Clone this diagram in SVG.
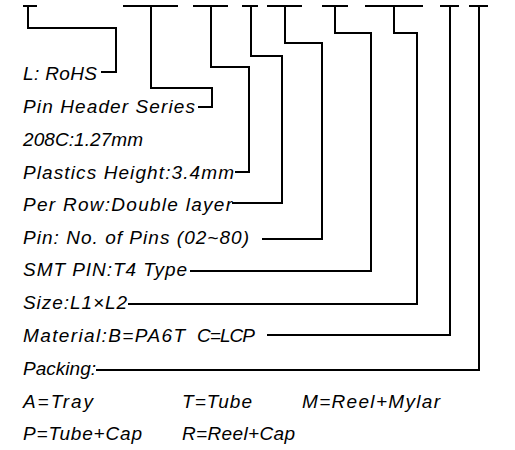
<svg xmlns="http://www.w3.org/2000/svg" width="515" height="450" viewBox="0 0 515 450">
<style>
.t{font-family:"Liberation Sans",Arial,sans-serif;font-style:italic;font-size:19px;fill:#000}
.c{fill:none;stroke:#000;stroke-width:2;stroke-linecap:butt;stroke-linejoin:miter}
</style>
<rect width="515" height="450" fill="#fff"/>
<g id="connectors" class="c">
<path d="M23 6H37M28 6V28H116V72H101"/>
<path d="M123 6H178M151 6V88H212V107H198"/>
<path d="M193 6H228M211 6V67H249V172H235"/>
<path d="M242 6H258M251 6V56H282V203H232"/>
<path d="M267 6H302M285 6V43H322V239H262"/>
<path d="M322 6H348M335 6V33H371V271H190"/>
<path d="M365 6H423M394 6V33H417V304H128"/>
<path d="M440 6H459M450 6V335H267"/>
<path d="M469 6H488M479 6V370H96"/>
</g>
<g id="n-rohs"><text class="t" x="23" y="80" textLength="74" lengthAdjust="spacing">L: RoHS</text></g>
<g id="n-series"><text class="t" x="23" y="113" textLength="172" lengthAdjust="spacing">Pin Header Series</text></g>
<g id="n-pitch"><text class="t" x="23" y="146" textLength="120" lengthAdjust="spacing">208C:1.27mm</text></g>
<g id="n-height"><text class="t" x="23" y="179" textLength="211" lengthAdjust="spacing">Plastics Height:3.4mm</text></g>
<g id="n-row"><text class="t" x="23" y="211" textLength="209" lengthAdjust="spacing">Per Row:Double layer</text></g>
<g id="n-pins"><text class="t" x="23" y="244" textLength="226" lengthAdjust="spacing">Pin: No. of Pins (02~80)</text></g>
<g id="n-smt"><text class="t" x="23" y="276" textLength="164" lengthAdjust="spacing">SMT PIN:T4 Type</text></g>
<g id="n-size"><text class="t" x="23" y="309" textLength="104" lengthAdjust="spacing">Size:L1×L2</text></g>
<g id="n-material"><text class="t" x="23" y="342"><tspan textLength="162" lengthAdjust="spacing">Material:B=PA6T</tspan><tspan x="197" textLength="58" lengthAdjust="spacing">C=LCP</tspan></text></g>
<g id="n-packing"><text class="t" x="23" y="375" textLength="73" lengthAdjust="spacing">Packing:</text></g>
<g id="n-tray"><text class="t" x="23" y="408" textLength="70" lengthAdjust="spacing">A=Tray</text></g>
<g id="n-tube"><text class="t" x="182" y="408" textLength="70" lengthAdjust="spacing">T=Tube</text></g>
<g id="n-mylar"><text class="t" x="302" y="408" textLength="138" lengthAdjust="spacing">M=Reel+Mylar</text></g>
<g id="n-tubecap"><text class="t" x="23" y="440" textLength="119" lengthAdjust="spacing">P=Tube+Cap</text></g>
<g id="n-reelcap"><text class="t" x="182" y="440" textLength="113" lengthAdjust="spacing">R=Reel+Cap</text></g>
</svg>
